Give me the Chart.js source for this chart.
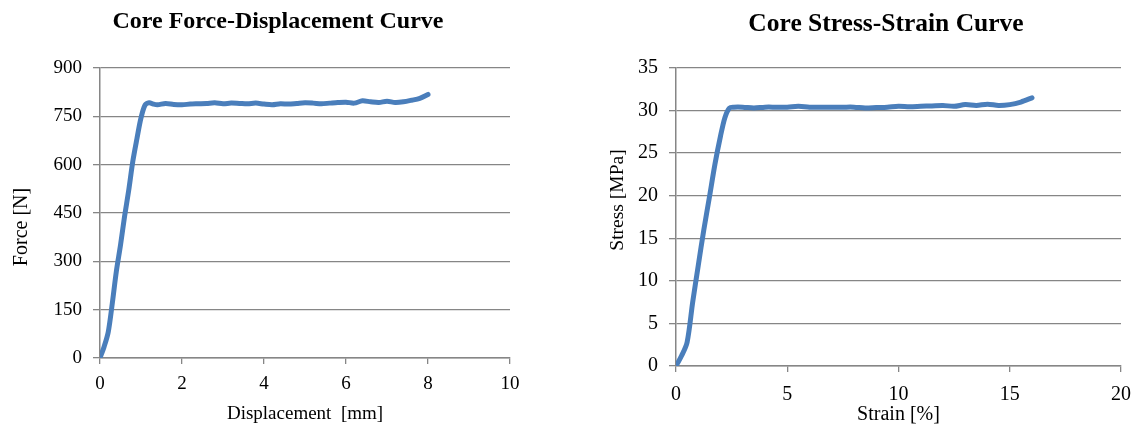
<!DOCTYPE html>
<html><head><meta charset="utf-8">
<script src="https://cdn.jsdelivr.net/npm/chart.js@4/dist/chart.umd.min.js"></script>
<style>
html,body{margin:0;padding:0;background:#fff;width:1133px;height:425px;overflow:hidden}
.box{position:absolute;top:0;height:425px}
</style></head><body>
<div class="box" style="left:0;width:566px"><canvas id="c1"></canvas></div>
<div class="box" style="left:590px;width:560px"><canvas id="c2"></canvas></div>
<script>
const displacement = [0,0.1,0.2,0.3,0.4,0.5,0.6,0.7,0.8,0.9,1.0,1.1,1.2,1.3,1.4,1.6,1.8,2.0,2.2,2.4,2.6,2.8,3.0,3.2,3.4,3.6,3.8,4.0,4.2,4.4,4.6,4.8,5.0,5.2,5.4,5.6,5.8,6.0,6.2,6.4,6.6,6.8,7.0,7.2,7.4,7.6,7.8,8.0];
const force = [0,35,80,170,270,350,440,520,610,680,745,785,792,788,786,790,787,786,788,789,790,792,789,791,790,789,791,788,786,789,788,790,792,791,789,791,793,794,791,798,795,793,797,793,795,800,806,818];
const strain = [0,0.25,0.5,0.75,1.0,1.25,1.5,1.75,2.0,2.2,2.4,2.6,3,3.5,4,4.5,5,5.5,6,6.5,7,7.5,8,8.5,9,9.5,10,10.5,11,11.5,12,12.5,13,13.5,14,14.5,15,15.5,16];
const stress = [0,1.2,2.8,7.5,11.8,16,19.8,23.7,27,29.2,30.3,30.4,30.4,30.3,30.4,30.4,30.4,30.5,30.4,30.4,30.4,30.4,30.4,30.3,30.35,30.4,30.5,30.45,30.5,30.55,30.6,30.5,30.7,30.6,30.75,30.6,30.7,31.0,31.5];
const forceTicks = [0,150,300,450,600,750,900];
const dispTicks = [0,2,4,6,8,10];
const stressTicks = [0,5,10,15,20,25,30,35];
const strainTicks = [0,5,10,15,20];

const FONT = "'Liberation Serif','Times New Roman',serif";
const GRID = '#868686';
const LINE = '#4a7ebb';

function textPlugin(o){
  return {id:'customText', afterDraw(chart){
    const ctx = chart.ctx; ctx.save();
    ctx.fillStyle = '#000'; ctx.textAlign = 'center'; ctx.textBaseline = 'middle';
    ctx.font = "bold " + o.titleSize + "px " + FONT;
    ctx.fillText(o.title, o.tx, o.ty);
    ctx.translate(o.yx, o.yy); ctx.rotate(-Math.PI/2);
    ctx.font = o.yTitleSize + "px " + FONT;
    ctx.fillText(o.yTitle, 0, 0);
    ctx.restore();
  }};
}

function makeChart(id, xs, ys, xTicks, yTicks, xTitle, opts){
  const data = xs.map((x,i)=>({x:x, y:ys[i]}));
  return new Chart(document.getElementById(id), {
    type:'line',
    data:{datasets:[{data:data, borderColor:LINE, borderWidth:5, pointRadius:0, tension:0.3,
      borderCapStyle:'round', borderJoinStyle:'round', fill:false}]},
    options:{
      responsive:true, maintainAspectRatio:false, animation:false,
      layout:{padding:{top:opts.top, right:opts.right, left:0, bottom:0}},
      plugins:{legend:{display:false}, tooltip:{enabled:false}, title:{display:false}},
      scales:{
        x:{type:'linear', min:xTicks[0], max:xTicks[xTicks.length-1],
          afterBuildTicks(s){ s.ticks = xTicks.map(v=>({value:v})); },
          afterFit(s){ s.height = opts.xh; },
          grid:{drawOnChartArea:false, drawTicks:true, tickLength:6, color:GRID, lineWidth:1.3},
          border:{color:GRID, width:1.5},
          ticks:{font:{family:FONT, size:opts.tickSize}, color:'#000', padding:opts.xpad, maxRotation:0},
          title:{display:true, text:xTitle, font:{family:FONT, size:opts.xTitleSize}, color:'#000', padding:{top:opts.xtpad, bottom:opts.xtbot}}
        },
        y:{type:'linear', min:yTicks[0], max:yTicks[yTicks.length-1],
          afterBuildTicks(s){ s.ticks = yTicks.map(v=>({value:v})); },
          afterFit(s){ s.width = opts.yw; },
          grid:{drawOnChartArea:true, drawTicks:true, tickLength:7, color:GRID, lineWidth:1.3},
          border:{color:GRID, width:1.5},
          ticks:{font:{family:FONT, size:opts.tickSize}, color:'#000', padding:11},
          title:{display:false}
        }
      }
    },
    plugins:[textPlugin(opts)]
  });
}

makeChart('c1', displacement, force, dispTicks, forceTicks, 'Displacement  [mm]',
  {top:68, right:56, xh:67, yw:100, tickSize:19, xTitleSize:19, xpad:9, xtpad:3, xtbot:0,
   title:'Core Force-Displacement Curve', titleSize:24, tx:278, ty:22,
   yTitle:'Force [N]', yTitleSize:20, yx:22, yy:227});
makeChart('c2', strain, stress, strainTicks, stressTicks, 'Strain [%]',
  {top:68, right:29, xh:59, yw:86, tickSize:20, xTitleSize:20, xpad:11, xtpad:0, xtbot:-2,
   title:'Core Stress-Strain Curve', titleSize:25.5, tx:296, ty:24,
   yTitle:'Stress [MPa]', yTitleSize:19.5, yx:28, yy:200});
</script>
</body></html>
